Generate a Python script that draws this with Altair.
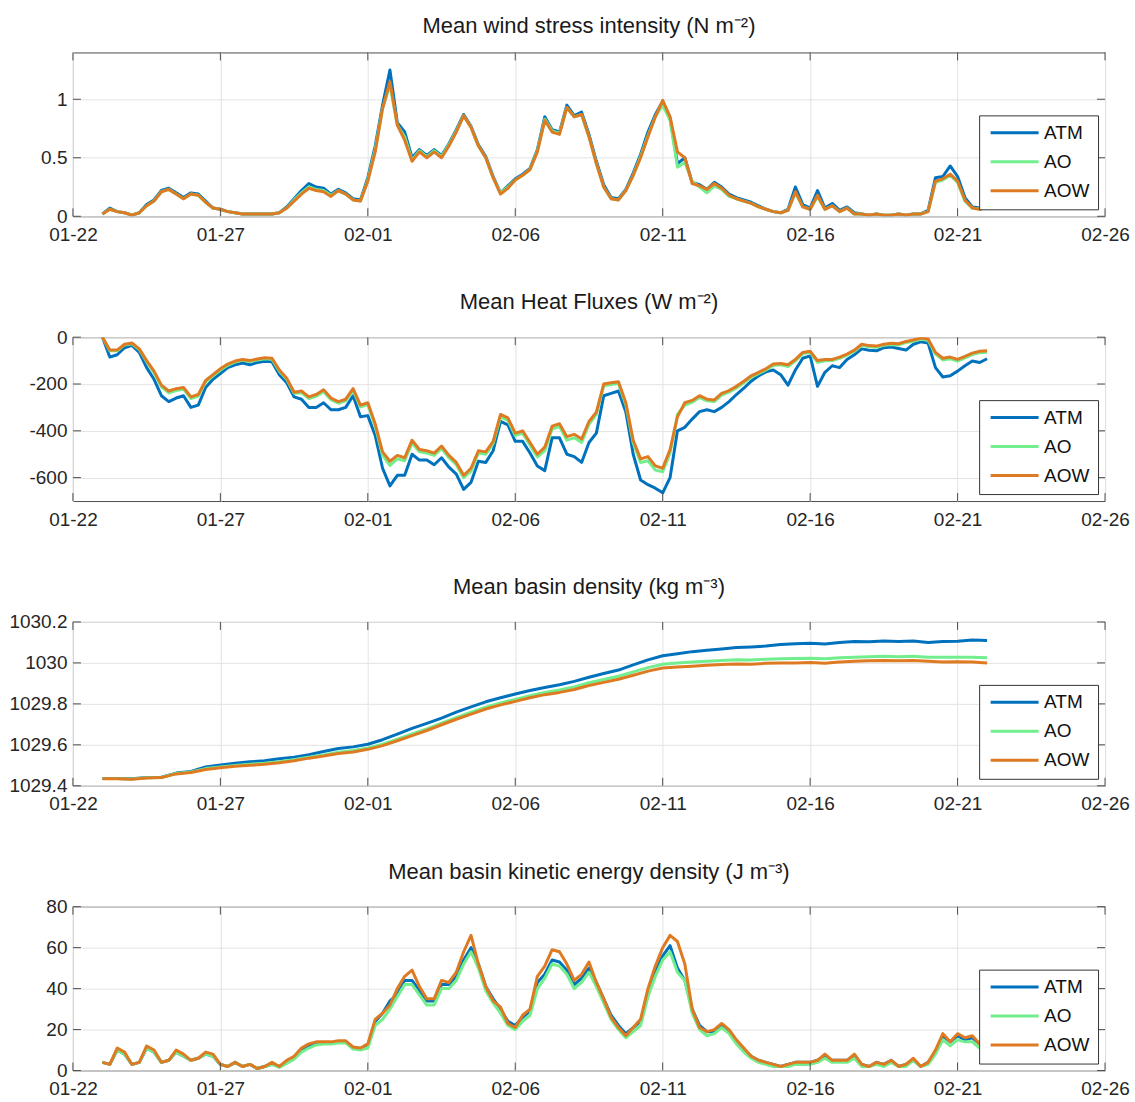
import altair as alt
import pandas as pd

FONT = "Liberation Sans"
SERIES = ["ATM", "AO", "AOW"]
COLORS = ["#0072BD", "#72EE8E", "#DE7B22"]

# x axis: days after 01-22 (year is arbitrary, not shown)
BASE_DATE = "2019-01-22"
TICK_DAYS = [0, 5, 10, 15, 20, 25, 30, 35]

# sampling times (days after 01-22)
QUARTER_DAYS = [1 + 0.25 * i for i in range(121)]
HALF_DAYS = [1 + 0.5 * i for i in range(61)]

# ---------------- Panel 1: wind stress (N m-2), 6-hourly ----------------
WIND_ATM = [
    0.02, 0.07, 0.04, 0.03,  0.01, 0.03, 0.10, 0.14,  0.22, 0.24, 0.20, 0.16,
    0.20, 0.19, 0.13, 0.07,  0.06, 0.04, 0.03, 0.02,  0.02, 0.02, 0.02, 0.02,
    0.03, 0.08, 0.15, 0.22,  0.28, 0.25, 0.24, 0.19,  0.23, 0.20, 0.15, 0.14,
    0.33, 0.60, 0.95, 1.25,  0.80, 0.72, 0.50, 0.57,  0.52, 0.57, 0.52, 0.62,
    0.74, 0.87, 0.77, 0.61,  0.51, 0.34, 0.20, 0.26,  0.32, 0.36, 0.41, 0.57,
    0.85, 0.74, 0.72, 0.95,  0.86, 0.89, 0.70, 0.47,  0.27, 0.16, 0.15, 0.23,
    0.37, 0.53, 0.72, 0.87,  0.98, 0.84, 0.45, 0.50,  0.29, 0.27, 0.23, 0.29,
    0.25, 0.19, 0.16, 0.14,  0.12, 0.09, 0.06, 0.04,  0.03, 0.06, 0.25, 0.10,
    0.07, 0.22, 0.07, 0.11,  0.05, 0.08, 0.03, 0.02,  0.01, 0.02, 0.01, 0.01,
    0.02, 0.01, 0.02, 0.02,  0.05, 0.33, 0.34, 0.43,  0.34, 0.16, 0.08, 0.07,
    0.09,
]
WIND_AO = [
    0.02, 0.06, 0.04, 0.03,  0.01, 0.03, 0.09, 0.13,  0.21, 0.23, 0.19, 0.15,
    0.19, 0.18, 0.12, 0.07,  0.06, 0.04, 0.03, 0.02,  0.02, 0.02, 0.02, 0.02,
    0.03, 0.07, 0.14, 0.20,  0.25, 0.23, 0.22, 0.18,  0.22, 0.19, 0.14, 0.13,
    0.31, 0.57, 0.92, 1.12,  0.78, 0.68, 0.48, 0.56,  0.51, 0.56, 0.51, 0.61,
    0.73, 0.86, 0.76, 0.60,  0.50, 0.33, 0.20, 0.25,  0.31, 0.35, 0.40, 0.56,
    0.83, 0.73, 0.71, 0.93,  0.85, 0.87, 0.68, 0.45,  0.25, 0.15, 0.14, 0.22,
    0.35, 0.51, 0.69, 0.85,  0.95, 0.82, 0.42, 0.46,  0.30, 0.25, 0.20, 0.26,
    0.23, 0.17, 0.15, 0.13,  0.11, 0.08, 0.06, 0.04,  0.03, 0.05, 0.20, 0.08,
    0.06, 0.17, 0.06, 0.09,  0.04, 0.07, 0.02, 0.02,  0.01, 0.02, 0.01, 0.01,
    0.02, 0.01, 0.02, 0.02,  0.04, 0.29, 0.31, 0.35,  0.29, 0.13, 0.07, 0.06,
    0.08,
]
WIND_AOW = [
    0.02, 0.06, 0.04, 0.03,  0.01, 0.03, 0.09, 0.13,  0.21, 0.23, 0.19, 0.15,
    0.19, 0.18, 0.12, 0.07,  0.06, 0.04, 0.03, 0.02,  0.02, 0.02, 0.02, 0.02,
    0.03, 0.07, 0.13, 0.19,  0.24, 0.22, 0.21, 0.17,  0.22, 0.19, 0.14, 0.13,
    0.30, 0.55, 0.92, 1.15,  0.78, 0.65, 0.47, 0.55,  0.50, 0.55, 0.50, 0.60,
    0.72, 0.86, 0.76, 0.60,  0.50, 0.33, 0.19, 0.24,  0.31, 0.35, 0.40, 0.55,
    0.82, 0.72, 0.70, 0.93,  0.85, 0.87, 0.68, 0.45,  0.25, 0.15, 0.14, 0.22,
    0.35, 0.50, 0.68, 0.85,  0.99, 0.85, 0.55, 0.50,  0.28, 0.26, 0.23, 0.28,
    0.24, 0.18, 0.15, 0.13,  0.11, 0.08, 0.06, 0.04,  0.03, 0.05, 0.21, 0.08,
    0.06, 0.18, 0.06, 0.09,  0.04, 0.07, 0.02, 0.02,  0.01, 0.02, 0.01, 0.01,
    0.02, 0.01, 0.02, 0.02,  0.04, 0.30, 0.32, 0.36,  0.30, 0.14, 0.07, 0.06,
    0.08,
]

# ---------------- Panel 2: heat fluxes (W m-2), 6-hourly ----------------
HEAT_ATM = [
    0, -85, -75, -45,  -35, -65, -130, -180,  -250, -275, -260, -250,
    -300, -290, -215, -180,  -155, -130, -118, -110,  -118, -108, -103, -105,
    -160, -195, -255, -265,  -300, -300, -280, -310,  -310, -300, -250, -340,
    -335, -420, -560, -635,  -590, -590, -500, -525,  -525, -545, -515, -555,
    -585, -650, -620, -530,  -535, -485, -360, -375,  -445, -445, -495, -550,
    -570, -430, -430, -500,  -510, -535, -450, -410,  -250, -240, -230, -320,
    -500, -610, -630, -645,  -665, -600, -400, -385,  -350, -318, -310, -318,
    -300, -275, -245, -218,  -188, -165, -148, -140,  -160, -205, -140, -90,
    -80, -210, -150, -122,  -130, -95, -75, -50,  -56, -58, -45, -42,
    -48, -55, -30, -20,  -25, -130, -170, -165,  -145, -122, -102, -108,
    -92,
]
HEAT_AO = [
    0, -58, -58, -33,  -28, -53, -105, -152,  -212, -238, -228, -222,
    -262, -252, -192, -165,  -140, -120, -106, -99,  -104, -97, -92, -94,
    -145, -180, -240, -237,  -262, -252, -233, -267,  -282, -272, -227, -298,
    -288, -380, -505, -548,  -520, -528, -452, -490,  -495, -505, -475, -515,
    -545, -600, -572, -495,  -500, -455, -340, -355,  -420, -410, -462, -512,
    -485, -392, -382, -440,  -430, -450, -372, -330,  -208, -202, -198, -290,
    -452, -535, -528, -568,  -575, -495, -330, -290,  -278, -258, -272, -275,
    -247, -235, -217, -195,  -171, -156, -140, -121,  -118, -125, -101, -70,
    -65, -108, -101, -100,  -90, -77, -60, -35,  -41, -43, -35, -31,
    -33, -23, -17, -9,  -13, -72, -97, -92,  -102, -88, -74, -66,
    -64,
]
HEAT_AOW = [
    0, -55, -55, -30,  -25, -50, -100, -145,  -205, -230, -220, -215,
    -255, -245, -185, -160,  -135, -115, -102, -95,  -100, -93, -88, -90,
    -140, -175, -235, -230,  -255, -245, -225, -260,  -275, -265, -220, -290,
    -280, -370, -490, -530,  -505, -515, -440, -480,  -485, -495, -465, -505,
    -535, -590, -560, -485,  -490, -445, -330, -345,  -410, -400, -450, -500,
    -470, -380, -370, -425,  -415, -435, -360, -320,  -200, -195, -190, -280,
    -440, -520, -510, -550,  -560, -480, -340, -280,  -270, -250, -265, -268,
    -240, -228, -210, -188,  -165, -150, -135, -115,  -112, -118, -95, -65,
    -60, -100, -95, -95,  -85, -72, -55, -30,  -36, -38, -30, -26,
    -28, -18, -12, -4,  -8, -65, -90, -85,  -95, -82, -68, -60,
    -58,
]

# ---------------- Panel 3: basin density (kg m-3), 12-hourly ----------------
DENS_ATM = [
    1029.436, 1029.436,  1029.434, 1029.440,  1029.442, 1029.462,  1029.470, 1029.492,
    1029.502, 1029.510,  1029.517, 1029.522,  1029.532, 1029.540,  1029.552, 1029.567,
    1029.582, 1029.590,  1029.603, 1029.625,  1029.652, 1029.680,  1029.705, 1029.730,
    1029.760, 1029.785,  1029.810, 1029.830,  1029.848, 1029.865,  1029.880, 1029.893,
    1029.910, 1029.930,  1029.948, 1029.965,  1029.990, 1030.015,  1030.035, 1030.045,
    1030.055, 1030.062,  1030.068, 1030.075,  1030.078, 1030.082,  1030.090, 1030.094,
    1030.096, 1030.092,  1030.100, 1030.104,  1030.103, 1030.107,  1030.105, 1030.107,
    1030.100, 1030.104,  1030.106, 1030.112,  1030.109,
]
DENS_AO = [
    1029.435, 1029.435,  1029.433, 1029.439,  1029.441, 1029.460,  1029.468, 1029.484,
    1029.492, 1029.499,  1029.505, 1029.510,  1029.517, 1029.527,  1029.540, 1029.551,
    1029.564, 1029.572,  1029.585, 1029.603,  1029.628, 1029.653,  1029.678, 1029.706,
    1029.733, 1029.759,  1029.784, 1029.805,  1029.822, 1029.840,  1029.856, 1029.868,
    1029.883, 1029.903,  1029.919, 1029.935,  1029.956, 1029.977,  1029.993, 1029.999,
    1030.004, 1030.008,  1030.012, 1030.015,  1030.014, 1030.018,  1030.020, 1030.021,
    1030.023, 1030.020,  1030.025, 1030.028,  1030.030, 1030.032,  1030.030, 1030.032,
    1030.028, 1030.027,  1030.028, 1030.027,  1030.025,
]
DENS_AOW = [
    1029.434, 1029.434,  1029.432, 1029.438,  1029.440, 1029.458,  1029.465, 1029.480,
    1029.488, 1029.495,  1029.500, 1029.505,  1029.512, 1029.522,  1029.535, 1029.545,
    1029.558, 1029.565,  1029.578, 1029.596,  1029.620, 1029.645,  1029.670, 1029.698,
    1029.725, 1029.750,  1029.775, 1029.795,  1029.812, 1029.830,  1029.845, 1029.856,
    1029.870, 1029.890,  1029.905, 1029.920,  1029.940, 1029.960,  1029.975, 1029.980,
    1029.984, 1029.988,  1029.992, 1029.995,  1029.993, 1029.998,  1030.000, 1030.000,
    1030.002, 1029.998,  1030.004, 1030.008,  1030.010, 1030.012,  1030.010, 1030.012,
    1030.008, 1030.005,  1030.006, 1030.004,  1030.000,
]

# ---------------- Panel 4: kinetic energy density (J m-3), 6-hourly ----------------
KE_ATM = [
    4, 3, 10, 8,  3, 4, 11, 9,  4, 5, 9, 7,  5, 6, 8, 7,  3, 2, 4, 2,  3, 1, 2, 3,
    2, 4, 6, 10,  12, 13, 13.5, 13.5,  14, 14, 11, 10.5,  12, 24, 28, 34,
    37, 44, 44, 39,  34, 34, 42, 42,  46, 54, 60, 52,  41, 35, 30, 24,
    22, 26, 29, 43,  47, 54, 53, 49,  42, 45, 50, 43,  35, 27, 22, 18,
    21, 24, 38, 48,  56, 61, 50, 44,  30, 22, 19, 19,  22, 19, 14, 10,
    7, 5, 4, 3,  2, 3, 4, 4,  4, 5, 7, 5,  5, 5, 7, 3,  2, 4, 3, 5,
    2, 3, 5, 2,  4, 9, 17, 14,  17, 15, 16, 13,  12,
]
KE_AO = [
    4, 3, 10, 8,  3, 4, 11, 9,  4, 5, 9, 7,  5, 6, 8, 7,  3, 2, 4, 2,  3, 1, 2, 3,
    1.5, 3.5, 5.5, 9,  11, 12.5, 13, 13,  13.5, 13.5, 10.5, 10,  11, 22, 25, 30,
    36, 42, 42, 37,  32, 32, 40, 40,  44, 52, 58, 50,  39, 33, 28, 22,
    20, 24, 27, 40,  45, 52, 51, 47,  40, 43, 48, 41,  33, 25, 20, 16,
    19, 22, 36, 46,  54, 58, 48, 44,  28, 20, 17, 18,  21, 18, 13, 9,
    6, 4, 3, 2,  2, 2, 3, 3,  3, 4, 6, 4,  4, 4, 6, 2,  2, 3, 2, 4,
    2, 2, 5, 2,  3, 8, 15, 12,  15, 14, 14, 11,  11,
]
KE_AOW = [
    4, 3, 11, 9,  3, 4, 12, 10,  4, 5, 10, 8,  5, 6, 9, 8,  3, 2, 4, 2,  3, 1, 2, 4,
    2, 5, 7, 11,  13, 14, 14, 14,  14.5, 14.5, 11.5, 11,  13, 25, 28, 32,
    40, 46, 49, 41,  35, 35, 44, 43,  48, 58, 66, 52,  41, 34, 31, 23,
    21, 27, 30, 46,  51, 59, 58, 52,  44, 47, 53, 43,  35, 26, 21, 17,
    21, 25, 40, 51,  60, 66, 63, 52,  30, 21, 19, 20,  23, 20, 15, 11,
    7, 5, 4, 3,  2, 3, 4, 4,  4, 5, 8, 5,  5, 5, 8, 3,  2, 4, 3, 5,
    2, 3, 6, 2,  4, 10, 18, 14,  18, 16, 17, 13,  12,
]

# ---------------- layout ----------------
W, H = 1033, 164
TICK_LEN = 8
TICK_COLOR = "#4d4d4d"
DAY_MS = 86400000
T0 = int(pd.Timestamp(BASE_DATE, tz="UTC").value // 10**6)


def to_ms(d):
    return T0 + int(round(d * DAY_MS))


def panel(title, days, values, ylo, yhi, yticks):
    rows = []
    for s in SERIES:
        for d, v in zip(days, values[s]):
            rows.append({"t": to_ms(d), "v": v, "s": s})
    df = pd.DataFrame(rows)
    tick_ms = [to_ms(d) for d in TICK_DAYS]

    x_enc = alt.X(
        "t:T",
        title=None,
        scale=alt.Scale(type="utc", domain=[to_ms(0), to_ms(35)]),
        axis=alt.Axis(
            values=tick_ms,
            labelExpr="utcFormat(datum.value, '%m-%d')",
            grid=True,
            labelFlush=False,
            labelOverlap=False,
            labelPadding=9,
        ),
    )
    y_enc = alt.Y(
        "v:Q",
        title=None,
        scale=alt.Scale(domain=[ylo, yhi], nice=False, zero=False),
        axis=alt.Axis(values=yticks, labelExpr="'' + datum.value", grid=True, labelPadding=6),
    )
    lines = alt.Chart(df).mark_line(strokeWidth=3, clip=True, strokeJoin="round").encode(
        x=x_enc,
        y=y_enc,
        color=alt.Color(
            "s:N",
            scale=alt.Scale(domain=SERIES, range=COLORS),
            legend=alt.Legend(
                title=None,
                orient="bottom-right",
                offset=7,
                fillColor="white",
                strokeColor="#333333",
                padding=8,
                labelFont=FONT,
                labelFontSize=19,
                labelColor="#111111",
                symbolType="M-4,0L4,0",
                symbolSize=144,
                symbolStrokeWidth=3,
                symbolOffset=18,
                labelOffset=20,
                rowPadding=9,
                labelLimit=200,
            ),
        ),
    )
    xt = pd.DataFrame({"t": tick_ms})
    yt = pd.DataFrame({"v": yticks})
    tx = alt.X("t:T", title=None)
    ty = alt.Y("v:Q", title=None)
    tick_top = alt.Chart(xt).mark_rule(color=TICK_COLOR).encode(x=tx, y=alt.value(0), y2=alt.value(TICK_LEN))
    tick_bot = alt.Chart(xt).mark_rule(color=TICK_COLOR).encode(x=tx, y=alt.value(H - TICK_LEN), y2=alt.value(H))
    tick_l = alt.Chart(yt).mark_rule(color=TICK_COLOR).encode(y=ty, x=alt.value(0), x2=alt.value(TICK_LEN))
    tick_r = alt.Chart(yt).mark_rule(color=TICK_COLOR).encode(y=ty, x=alt.value(W - TICK_LEN), x2=alt.value(W))

    return alt.layer(lines, tick_top, tick_bot, tick_l, tick_r).properties(
        width=W,
        height=H,
        title=alt.TitleParams(
            text=title,
            font=FONT,
            fontSize=22,
            fontWeight="normal",
            color="#1a1a1a",
            anchor="middle",
            frame="group",
            offset=14,
        ),
    )


p1 = panel("Mean wind stress intensity (N m\u207b\u00b2)", QUARTER_DAYS,
           {"ATM": WIND_ATM, "AO": WIND_AO, "AOW": WIND_AOW}, 0, 1.4, [0, 0.5, 1])
p2 = panel("Mean Heat Fluxes (W m\u207b\u00b2)", QUARTER_DAYS,
           {"ATM": HEAT_ATM, "AO": HEAT_AO, "AOW": HEAT_AOW}, -700, 0, [-600, -400, -200, 0])
p3 = panel("Mean basin density (kg m\u207b\u00b3)", HALF_DAYS,
           {"ATM": DENS_ATM, "AO": DENS_AO, "AOW": DENS_AOW}, 1029.4, 1030.2,
           [1029.4, 1029.6, 1029.8, 1030, 1030.2])
p4 = panel("Mean basin kinetic energy density (J m\u207b\u00b3)", QUARTER_DAYS,
           {"ATM": KE_ATM, "AO": KE_AO, "AOW": KE_AOW}, 0, 80, [0, 20, 40, 60, 80])

chart = (
    alt.vconcat(p1, p2, p3, p4, spacing=45)
    .resolve_scale(color="independent", x="independent", y="independent")
    .resolve_legend(color="independent")
    .properties(padding={"left": 8, "top": 14, "right": 5, "bottom": 5}, background="white")
    .configure_view(stroke="#4d4d4d", strokeWidth=1)
    .configure_axis(
        domain=False,
        ticks=False,
        tickSize=0,
        labelFont=FONT,
        labelFontSize=19,
        labelColor="#262626",
        gridColor="#e3e3e3",
        gridWidth=1,
    )
)

chart.save("out.html", embed_options={"renderer": "svg", "actions": False})
